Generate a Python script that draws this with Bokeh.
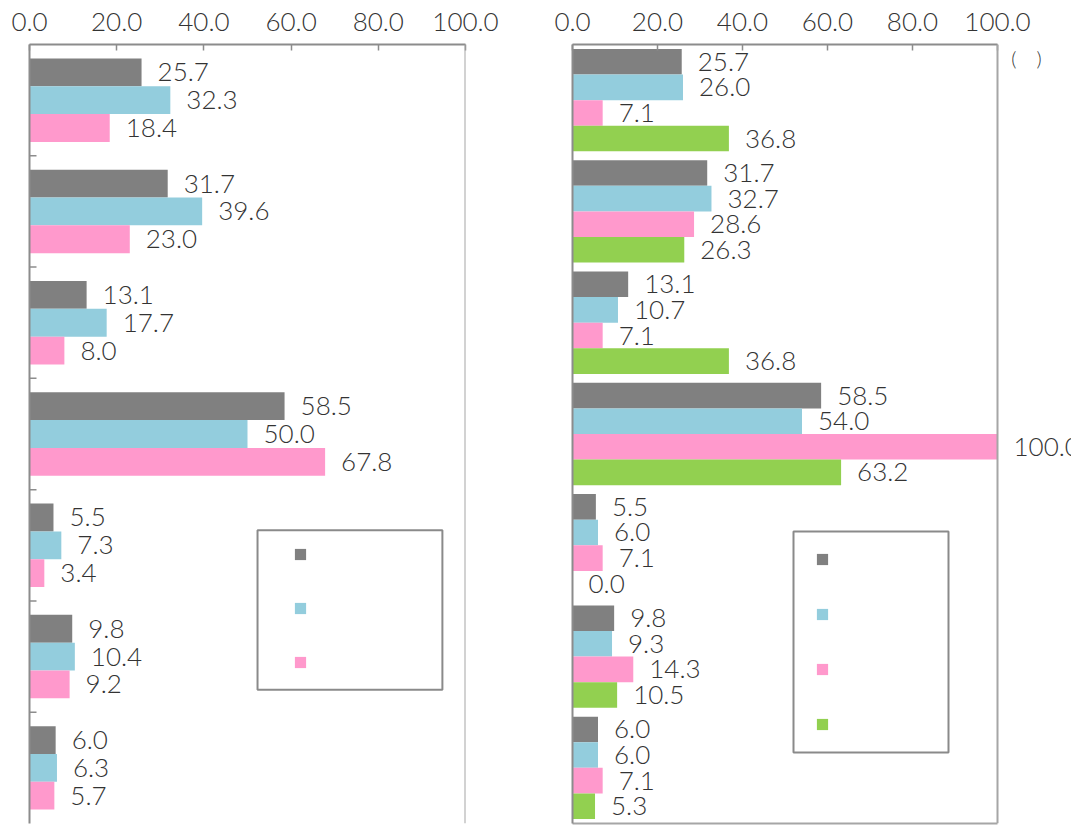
from bokeh.plotting import figure
from bokeh.models import (ColumnDataSource, FactorRange, Range1d, LinearAxis, FixedTicker,
                          PrintfTickFormatter, Legend, LegendItem, Span, Label, BoxAnnotation)
from bokeh.transform import dodge
from bokeh.layouts import row
from bokeh.core.properties import value
from bokeh.embed import file_html
from bokeh.resources import INLINE

# ---------------- data ----------------
categories = ["c1", "c2", "c3", "c4", "c5", "c6", "c7"]
x_ticks = [0, 20, 40, 60, 80, 100]

left_series = ["s1", "s2", "s3"]
left_s1 = [25.7, 31.7, 13.1, 58.5, 5.5, 9.8, 6.0]
left_s2 = [32.3, 39.6, 17.7, 50.0, 7.3, 10.4, 6.3]
left_s3 = [18.4, 23.0, 8.0, 67.8, 3.4, 9.2, 5.7]

right_series = ["s1", "s2", "s3", "s4"]
right_s1 = [25.7, 31.7, 13.1, 58.5, 5.5, 9.8, 6.0]
right_s2 = [26.0, 32.7, 10.7, 54.0, 6.0, 9.3, 6.0]
right_s3 = [7.1, 28.6, 7.1, 100.0, 7.1, 14.3, 7.1]
right_s4 = [36.8, 26.3, 36.8, 63.2, 0.0, 10.5, 5.3]

unit_text = "(\u3000)"

# ---------------- style ----------------
COLORS = ["#808080", "#93CDDD", "#FF99CC", "#92D050"]
AXIS_C = "#8c8c8c"
BORDER_C = "#a6a6a6"
LEG_C = "#8a8a8a"
TXT_C = "#333333"
FONT = "'Lato Light', Lato"


def style_top_axis(ax, bounds=None):
    ax.ticker = FixedTicker(ticks=x_ticks)
    ax.formatter = PrintfTickFormatter(format="%.1f")
    ax.major_label_text_font = FONT
    ax.major_label_text_font_size = "26px"
    ax.major_label_text_color = TXT_C
    ax.major_tick_in = 6
    ax.major_tick_out = 0
    ax.minor_tick_line_color = None
    ax.axis_line_color = AXIS_C
    ax.axis_line_width = 2
    ax.major_tick_line_color = AXIS_C
    ax.major_tick_line_width = 1.5
    ax.major_label_standoff = 14
    if bounds is not None:
        ax.bounds = bounds


def make_panel(series_vals, width, height, x_end, px_per_unit, bar_h, mb_left, mb_right,
               mb_bottom, legend_loc, legend_spacing, box, ticks_left):
    n = len(series_vals)
    data = {"cat": categories}
    for i, vals in enumerate(series_vals):
        data[f"v{i}"] = vals
        data[f"t{i}"] = [f"{v:.1f}" for v in vals]
    src = ColumnDataSource(data)

    p = figure(width=width, height=height, x_range=Range1d(0, x_end),
               y_range=FactorRange(*reversed(categories)),
               x_axis_location="above", y_axis_location="left",
               output_backend="svg", toolbar_location=None,
               min_border_left=mb_left, min_border_right=mb_right,
               min_border_top=44, min_border_bottom=mb_bottom)
    p.grid.visible = False
    p.background_fill_color = "white"
    p.border_fill_color = "white"
    p.outline_line_color = None

    yax = p.yaxis[0]
    yax.major_tick_line_color = None
    yax.major_tick_in = 0
    yax.major_tick_out = 0
    yax.major_label_text_font_size = "0px"
    yax.major_label_text_alpha = 0
    yax.major_label_standoff = 0
    yax.axis_line_color = AXIS_C
    yax.axis_line_width = 2

    offsets = [((n - 1) / 2 - i) * bar_h for i in range(n)]
    renderers = []
    for i in range(n):
        r = p.hbar(y=dodge("cat", offsets[i], range=p.y_range), left=0, right=f"v{i}",
                   height=bar_h, source=src, fill_color=COLORS[i], line_color=None)
        renderers.append(r)
        p.text(x=f"v{i}", y=dodge("cat", offsets[i], range=p.y_range), text=f"t{i}",
               source=src, x_offset=16, text_align="left", text_baseline="middle",
               text_font=value(FONT), text_font_size="26px", text_color=TXT_C)

    if ticks_left:
        # small inward ticks on the boundaries between categories
        bsrc = ColumnDataSource({"cat": categories[:-1]})
        p.segment(x0=0, x1=7 / px_per_unit,
                  y0=dodge("cat", -0.5, range=p.y_range),
                  y1=dodge("cat", -0.5, range=p.y_range),
                  source=bsrc, line_color=AXIS_C, line_width=1.5)

    # right border of the plot area at 100
    p.add_layout(Span(location=100, dimension="height", line_color=BORDER_C, line_width=2))

    # legend frame
    bl, br, bt, bb = box
    p.add_layout(BoxAnnotation(left=bl, right=br, top=bt, bottom=bb,
                               fill_color="white", fill_alpha=1.0,
                               line_color=LEG_C, line_width=2, line_alpha=1.0))
    legend = Legend(items=[LegendItem(label=" ", renderers=[r]) for r in renderers],
                    location=legend_loc, padding=0, spacing=legend_spacing,
                    glyph_width=14, glyph_height=14, label_height=14,
                    label_width=1, label_standoff=0, margin=0,
                    label_text_font_size="8px",
                    border_line_color=None, background_fill_alpha=0.0)
    p.add_layout(legend)
    return p


# left panel: frame x 29..465 (0..100), y 44..825
p1 = make_panel([left_s1, left_s2, left_s3], width=518, height=825, x_end=100,
                px_per_unit=4.36, bar_h=0.25, mb_left=29, mb_right=53, mb_bottom=0,
                legend_loc=(263.6, 153.6), legend_spacing=40,
                box=(52.3, 94.7, 2.635, 1.201), ticks_left=True)
style_top_axis(p1.xaxis[0])

# right panel: frame x 572..1071 (0..117.4), 100 at x=997, y 44..823
R_END = (1071 - 572) / 4.25
p2 = make_panel([right_s1, right_s2, right_s3, right_s4], width=553, height=825, x_end=R_END,
                px_per_unit=4.25, bar_h=0.23, mb_left=54, mb_right=0, mb_bottom=2,
                legend_loc=(242.6, 91.6), legend_spacing=41,
                box=(52.0, 88.47, 2.624, 0.638), ticks_left=False)
style_top_axis(p2.xaxis[0], bounds=(0, 100))
bottom_ax = LinearAxis(ticker=FixedTicker(ticks=[]), bounds=(0, 100),
                       major_label_text_font_size="0px", major_label_standoff=0,
                       major_tick_in=0, major_tick_out=0, minor_tick_line_color=None,
                       axis_line_color=BORDER_C, axis_line_width=2)
p2.add_layout(bottom_ax, "below")
p2.add_layout(Label(x=106.8, y=len(categories), y_offset=-1,
                    text=unit_text, text_align="center", text_baseline="top",
                    text_font=FONT, text_font_size="20px", text_color=TXT_C))

layout = row(p1, p2)
open("out.html", "w").write(file_html(layout, INLINE))
